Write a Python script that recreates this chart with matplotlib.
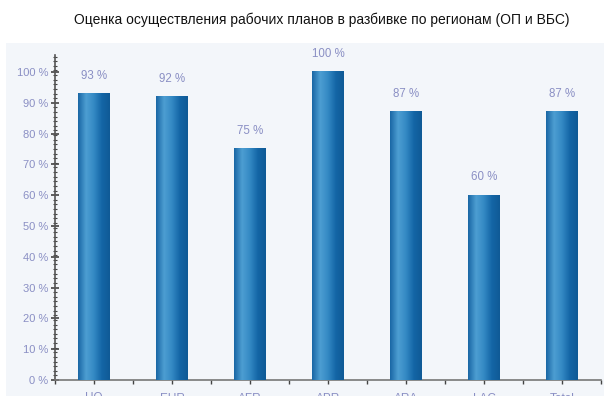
import matplotlib.pyplot as plt
import matplotlib.patches as mpatches
from matplotlib.colors import LinearSegmentedColormap
from matplotlib.ticker import MultipleLocator
import numpy as np

plt.rcParams['font.family'] = ['Liberation Sans', 'DejaVu Sans']

regions = ["HQ", "EUR", "AFR", "APR", "ARA", "LAC", "Total"]
values = [93, 92, 75, 100, 87, 60, 87]

label_color = "#8a8fc4"

fig = plt.figure(figsize=(6.04, 3.96), dpi=100)
# light panel behind the plot
fig.patches.append(mpatches.Rectangle((6 / 604, 0), 1, 1 - 43 / 396,
                                      transform=fig.transFigure,
                                      facecolor="#f3f6fa", edgecolor="none", zorder=-5))
fig.text(322 / 604, 1 - 20 / 396,
         "Оценка осуществления рабочих планов в разбивке по регионам (ОП и ВБС)",
         ha="center", va="center", fontsize=10, color="#111111")

ax = fig.add_axes([55 / 604, 16 / 396, (601 - 55) / 604, (380 - 55) / 396])
ax.set_facecolor("none")

x = np.arange(len(regions))
bars = ax.bar(x, values, width=0.41, color="#2a80bd", zorder=2)

# horizontal gradient on each bar
cmap = LinearSegmentedColormap.from_list("bar", ["#1a67a5", "#4d9ed2", "#3489c4", "#1466a6", "#0f5a96"])
grad = np.linspace(0, 1, 64).reshape(1, -1)
for b in bars:
    ax.imshow(grad, cmap=cmap, aspect="auto", zorder=3,
              extent=[b.get_x(), b.get_x() + b.get_width(), 0, b.get_height()])

for xi, v in zip(x, values):
    ax.text(xi, v + 3.8, f"{v} %", ha="center", va="bottom", fontsize=8.3, color=label_color)

ax.set_xlim(-0.5, len(regions) - 0.5)
ax.set_ylim(0, 105.5)

ax.yaxis.set_minor_locator(MultipleLocator(1.5))
ax.set_yticks(range(0, 101, 10))
ax.set_yticklabels([f"{t} %" for t in range(0, 101, 10)])
ax.tick_params(axis="y", which="major", direction="inout", length=6, width=1.2, colors="#444444",
               labelcolor=label_color, labelsize=8, pad=2)
ax.tick_params(axis="y", which="minor", direction="inout", length=3, width=0.8, colors="#444444")

ax.set_xticks(x)
ax.set_xticklabels(regions)
ax.tick_params(axis="x", which="major", length=3, width=1, colors="#444444",
               labelcolor=label_color, labelsize=8.5, pad=6)
ax.set_xticks(np.arange(len(regions) + 1) - 0.5, minor=True)
ax.tick_params(axis="x", which="minor", length=3, width=1, colors="#444444")

for side in ["top", "right"]:
    ax.spines[side].set_visible(False)
ax.spines["left"].set_color("#555555")
ax.spines["bottom"].set_color("#777777")
ax.spines["left"].set_linewidth(1.2)
ax.spines["bottom"].set_linewidth(1.2)

fig.savefig("out.png", dpi=100)
